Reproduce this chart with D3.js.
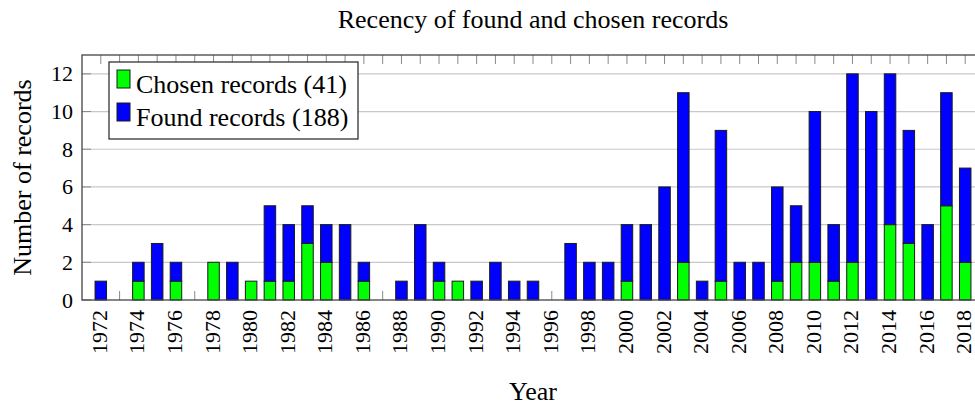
<!DOCTYPE html>
<html>
<head>
<meta charset="utf-8">
<script src="https://cdn.jsdelivr.net/npm/d3@7"></script>
<style>
  body { margin: 0; background: #fff; }
</style>
</head>
<body>
<script>
const width = 975, height = 405;
const margin = {top: 55, right: -9, bottom: 105, left: 82}; // right edge is cut off like the reference
const serif = "'Liberation Serif', 'DejaVu Serif', 'Times New Roman', Times, serif";

var years = d3.range(1972, 2019);
var chosen = [0,0,1,0,1,0,2,0,1,1,1,3,2,0,1,0,0,0,1,1,0,0,0,0,0,0,0,0,1,0,0,2,0,1,0,0,1,2,2,1,2,0,4,3,0,5,2];
var found  = [1,0,2,3,2,0,2,2,1,5,4,5,4,4,2,0,1,4,2,1,1,2,1,1,0,3,2,2,4,4,6,11,1,9,2,2,6,5,10,4,12,10,12,9,4,11,7];
var yTicks = [0, 2, 4, 6, 8, 10, 12];
var legendLabels = ["Chosen records (41)", "Found records (188)"];
var colors = ["#00ff00", "#0000ff"];

var x0 = margin.left, x1 = width - margin.right;
var y0 = height - margin.bottom, y1 = margin.top;

var xScale = d3.scaleLinear().domain([1971, 2019]).range([x0, x1]);
var yScale = d3.scaleLinear().domain([0, 13]).range([y0, y1]);
var barW = 11.5;

var svg = d3.select("body").append("svg")
    .attr("width", width)
    .attr("height", height)
    .attr("font-family", serif);

// grid
svg.append("g").selectAll("line")
    .data(yTicks.slice(1))
    .enter().append("line")
    .attr("x1", x0).attr("x2", x1)
    .attr("y1", d => yScale(d)).attr("y2", d => yScale(d))
    .attr("stroke", "#c8c8c8")
    .attr("stroke-width", 1.2);

// ticks (inward, both sides)
var tickLen = 9;
var tg = svg.append("g").attr("stroke", "#8a8a8a").attr("stroke-width", 1);
tg.selectAll(".xt").data(years).enter().append("line")
    .attr("x1", d => xScale(d)).attr("x2", d => xScale(d))
    .attr("y1", y1).attr("y2", y1 + tickLen);
tg.selectAll(".xb").data(years).enter().append("line")
    .attr("x1", d => xScale(d)).attr("x2", d => xScale(d))
    .attr("y1", y0).attr("y2", y0 - tickLen);
tg.selectAll(".yl").data(yTicks).enter().append("line")
    .attr("x1", x0).attr("x2", x0 + tickLen)
    .attr("y1", d => yScale(d)).attr("y2", d => yScale(d));

// stacked bars
var stackData = years.map(function(y, i) { return {year: y, chosen: chosen[i], found: found[i] - chosen[i]}; });
var series = d3.stack().keys(["chosen", "found"])(stackData);

svg.append("g").selectAll("g")
    .data(series)
    .enter().append("g")
    .attr("fill", (d, i) => colors[i])
    .selectAll("rect")
    .data(d => d.filter(p => p[1] > p[0]))
    .enter().append("rect")
    .attr("x", d => xScale(d.data.year) - barW / 2)
    .attr("width", barW)
    .attr("y", d => yScale(d[1]))
    .attr("height", d => yScale(d[0]) - yScale(d[1]))
    .attr("stroke", "#1a1a1a")
    .attr("stroke-width", 1);

// frame
svg.append("rect")
    .attr("x", x0).attr("y", y1)
    .attr("width", x1 - x0).attr("height", y0 - y1)
    .attr("fill", "none")
    .attr("stroke", "#444")
    .attr("stroke-width", 1.3);

// tick labels
svg.append("g").selectAll("text")
    .data(yTicks).enter().append("text")
    .attr("x", x0 - 9)
    .attr("y", d => yScale(d) + 7.5)
    .attr("text-anchor", "end")
    .attr("font-size", 22)
    .text(d => d);

svg.append("g").selectAll("text")
    .data(years.filter(y => y % 2 === 0)).enter().append("text")
    .attr("transform", d => "translate(" + (xScale(d) + 6) + "," + (y0 + 10) + ") rotate(-90)")
    .attr("text-anchor", "end")
    .attr("font-size", 22)
    .text(d => d);

// title & axis labels
svg.append("text")
    .attr("x", (x0 + x1) / 2).attr("y", 28)
    .attr("text-anchor", "middle")
    .attr("font-size", 26)
    .text("Recency of found and chosen records");

svg.append("text")
    .attr("x", (x0 + x1) / 2).attr("y", 400)
    .attr("text-anchor", "middle")
    .attr("font-size", 26)
    .text("Year");

svg.append("text")
    .attr("transform", "translate(31," + ((y0 + y1) / 2) + ") rotate(-90)")
    .attr("text-anchor", "middle")
    .attr("font-size", 26)
    .text("Number of records");

// legend
var lg = svg.append("g").attr("transform", "translate(109,62)");
lg.append("rect")
    .attr("width", 249).attr("height", 77)
    .attr("fill", "#fff")
    .attr("stroke", "#222")
    .attr("stroke-width", 1.2);
var items = lg.selectAll(".item").data(legendLabels).enter().append("g")
    .attr("transform", (d, i) => "translate(0," + (i * 33) + ")");
items.append("rect")
    .attr("x", 8).attr("y", 8)
    .attr("width", 13).attr("height", 18)
    .attr("fill", (d, i) => colors[i])
    .attr("stroke", "#1a1a1a");
items.append("text")
    .attr("x", 27).attr("y", 31)
    .attr("font-size", 26)
    .text(d => d);
</script>
</body>
</html>
